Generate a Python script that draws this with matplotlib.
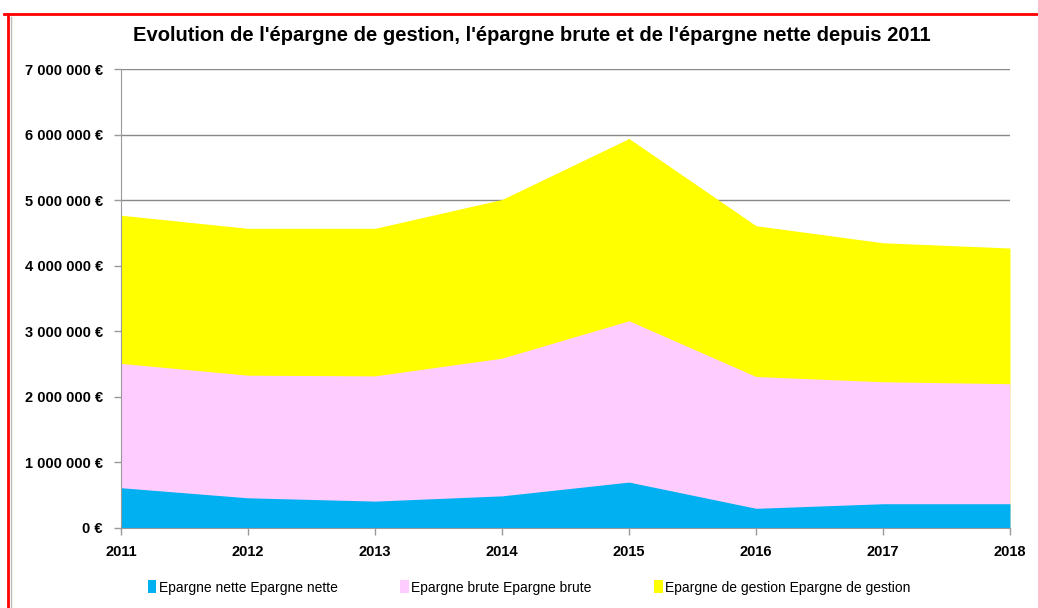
import numpy as np
import matplotlib.pyplot as plt
from matplotlib.lines import Line2D
from matplotlib.ticker import FuncFormatter

plt.rcParams['font.family'] = ['Liberation Sans Narrow', 'Liberation Sans', 'DejaVu Sans']

# Data
years = [2011, 2012, 2013, 2014, 2015, 2016, 2017, 2018]
epargne_gestion = [4.77e6, 4.57e6, 4.57e6, 5.01e6, 5.94e6, 4.61e6, 4.35e6, 4.27e6]
epargne_brute = [2.51e6, 2.33e6, 2.32e6, 2.59e6, 3.16e6, 2.31e6, 2.23e6, 2.20e6]
epargne_nette = [0.614e6, 0.46e6, 0.41e6, 0.49e6, 0.70e6, 0.30e6, 0.37e6, 0.37e6]

labels = ["Epargne nette Epargne nette",
          "Epargne brute Epargne brute",
          "Epargne de gestion Epargne de gestion"]
colors = ['#00b0f0', '#ffccff', '#ffff00']

fig = plt.figure(figsize=(10.38, 6.08), dpi=100)
ax = fig.add_axes([0.1166, 0.1316, 0.8564, 0.7549])

ax.fill_between(years, 0, epargne_gestion, color=colors[2], lw=0, zorder=2, label=labels[2])
ax.fill_between(years, 0, epargne_brute, color=colors[1], lw=0, zorder=3, label=labels[1])
ax.fill_between(years, 0, epargne_nette, color=colors[0], lw=0, zorder=4, label=labels[0])

ax.set_xlim(2011, 2018)
ax.set_ylim(0, 7e6)
ax.set_xticks(years)
ax.set_yticks(np.arange(0, 7.5e6, 1e6))

def fmt_euro(v, pos):
    s = f"{int(round(v)):,}".replace(",", " ")
    return s + " €"

ax.yaxis.set_major_formatter(FuncFormatter(fmt_euro))
ax.grid(axis='y', color='#888888', lw=1, zorder=1)
ax.set_axisbelow(True)

for side in ['top', 'right']:
    ax.spines[side].set_visible(False)
for side in ['left', 'bottom']:
    ax.spines[side].set_color('#999999')
    ax.spines[side].set_zorder(5)

ax.tick_params(axis='both', colors='#999999', length=5, width=1, labelcolor='black')
ax.tick_params(axis='y', pad=8)
ax.tick_params(axis='x', pad=7)
for lab in ax.get_xticklabels() + ax.get_yticklabels():
    lab.set_fontweight('bold')
    lab.set_fontsize(10.5)

fig.text(0.512, 0.942, "Evolution de l'épargne de gestion, l'épargne brute et de l'épargne nette depuis 2011",
         ha='center', va='center', fontsize=14.5, fontweight='bold')

handles, leg_labels = ax.get_legend_handles_labels()
order = [2, 1, 0]
fig.legend([handles[i] for i in order], [leg_labels[i] for i in order],
           loc='center', bbox_to_anchor=(0.51, 0.034), ncol=3, frameon=False,
           fontsize=10, handlelength=0.6, handleheight=1.1, handletextpad=0.2,
           columnspacing=4.5)

# red frame at top and left
fig.add_artist(Line2D([0.004, 1.0], [0.977, 0.977], color='red', lw=2))
fig.add_artist(Line2D([0.0077, 0.0077], [0.0, 0.977], color='red', lw=2))
fig.add_artist(Line2D([0.0106, 0.0106], [0.0, 0.972], color='#bbbbbb', lw=1))

plt.savefig('out.png', dpi=100)
